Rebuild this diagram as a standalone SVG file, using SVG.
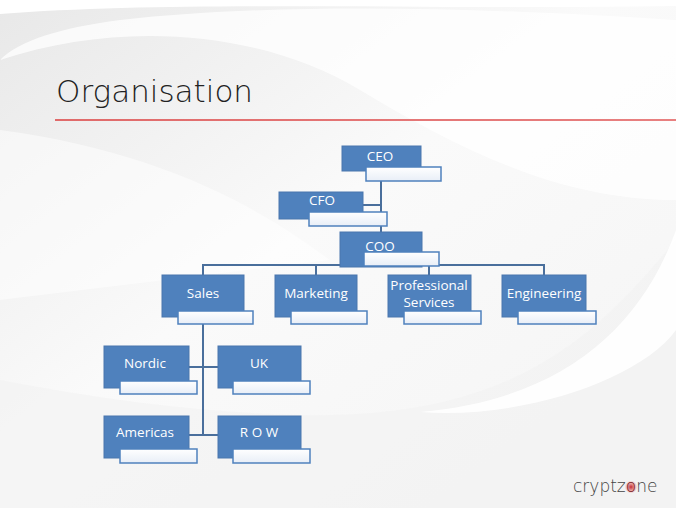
<svg xmlns="http://www.w3.org/2000/svg" width="676" height="508" viewBox="0 0 676 508">
<defs>
<linearGradient id="bg" x1="0" y1="0" x2="1" y2="1">
<stop offset="0" stop-color="#e8e8e8"/>
<stop offset="0.45" stop-color="#fafafa"/>
<stop offset="1" stop-color="#f4f4f4"/>
</linearGradient>
<linearGradient id="redline" x1="0" y1="0" x2="1" y2="0">
<stop offset="0" stop-color="#e06a6a"/>
<stop offset="1" stop-color="#e88080"/>
</linearGradient>
<linearGradient id="wbox" x1="0" y1="0" x2="0" y2="1">
<stop offset="0" stop-color="#ffffff"/>
<stop offset="1" stop-color="#e8eef7"/>
</linearGradient>
<radialGradient id="dot" cx="0.5" cy="0.5" r="0.5">
<stop offset="0" stop-color="#c0141e" stop-opacity="0.9"/>
<stop offset="1" stop-color="#e04040" stop-opacity="0"/>
</radialGradient>
<style>
.blue{fill:#4f81bd;stroke:#4a76ad;stroke-width:1}
.white{fill:url(#wbox);stroke:#4f81bd;stroke-width:1.5}
.lbl{font-family:"Open Sans","Liberation Sans",sans-serif;font-size:13.5px;fill:#ffffff;text-anchor:middle}
.conn{stroke:#4a6f9c;stroke-width:2;fill:none}
</style>
</defs>
<rect x="0" y="0" width="676" height="508" fill="url(#bg)"/>
<path d="M0,14 C180,0 420,10 676,6 L676,0 L0,0 Z" fill="#ffffff"/>
<path d="M0,60 C120,20 260,30 360,90 C460,150 560,200 676,200 L676,20 C520,10 300,0 120,20 C60,28 20,40 0,60 Z" fill="#ffffff" opacity="0.75"/>
<path d="M0,130 C150,150 250,200 330,260 L0,300 Z" fill="#ffffff" opacity="0.5"/>
<path d="M676,240 C600,330 520,420 300,415 C180,412 80,395 0,380 L0,508 L676,508 Z" fill="#f2f2f2" opacity="0.6"/>
<path d="M676,230 C640,330 560,400 420,412 C520,420 640,380 676,330 Z" fill="#ffffff" opacity="0.9"/>

<text x="56" y="102" font-family="DejaVu Sans, sans-serif" font-weight="200" font-size="31" fill="#222222">Organisation</text>
<rect x="55" y="119" width="621" height="2" fill="url(#redline)"/>

<g id="connectors">
<line class="conn" x1="381" y1="181" x2="381" y2="265"/>
<line class="conn" x1="363" y1="205" x2="381" y2="205"/>
<line class="conn" x1="203" y1="265" x2="544" y2="265"/>
<line class="conn" x1="203" y1="264" x2="203" y2="275"/>
<line class="conn" x1="316" y1="264" x2="316" y2="275"/>
<line class="conn" x1="429" y1="264" x2="429" y2="275"/>
<line class="conn" x1="544" y1="264" x2="544" y2="275"/>
<line class="conn" x1="203" y1="324" x2="203" y2="436"/>
<line class="conn" x1="189" y1="367" x2="218" y2="367"/>
<line class="conn" x1="189" y1="435" x2="218" y2="435"/>
</g>

<g id="ceo"><rect class="blue" x="342" y="146" width="79" height="25"/><rect class="white" x="366" y="167" width="75" height="14"/><text class="lbl" x="380" y="161">CEO</text></g>
<g id="cfo"><rect class="blue" x="279" y="192" width="84" height="27"/><rect class="white" x="309" y="212" width="78" height="14"/><text class="lbl" x="322" y="205">CFO</text></g>
<g id="coo"><rect class="blue" x="340" y="232" width="82" height="35"/><rect class="white" x="364" y="252" width="75" height="14"/><text class="lbl" x="380" y="251">COO</text></g>
<g id="sales"><rect class="blue" x="162" y="275" width="82" height="42"/><rect class="white" x="178" y="311" width="75" height="13"/><text class="lbl" x="203" y="298">Sales</text></g>
<g id="marketing"><rect class="blue" x="275" y="275" width="82" height="42"/><rect class="white" x="291" y="311" width="76" height="13"/><text class="lbl" x="316" y="298">Marketing</text></g>
<g id="professional-services"><rect class="blue" x="388" y="275" width="83" height="42"/><rect class="white" x="404" y="311" width="77" height="13"/><text class="lbl" x="429" y="290">Professional</text><text class="lbl" x="429" y="307">Services</text></g>
<g id="engineering"><rect class="blue" x="502" y="275" width="84" height="42"/><rect class="white" x="518" y="311" width="78" height="13"/><text class="lbl" x="544" y="298">Engineering</text></g>
<g id="nordic"><rect class="blue" x="104" y="346" width="85" height="42"/><rect class="white" x="120" y="381" width="77" height="13"/><text class="lbl" x="145" y="368">Nordic</text></g>
<g id="uk"><rect class="blue" x="218" y="346" width="83" height="42"/><rect class="white" x="233" y="381" width="77" height="13"/><text class="lbl" x="259" y="368">UK</text></g>
<g id="americas"><rect class="blue" x="104" y="416" width="85" height="42"/><rect class="white" x="120" y="449" width="77" height="14"/><text class="lbl" x="145" y="437">Americas</text></g>
<g id="row"><rect class="blue" x="218" y="416" width="83" height="42"/><rect class="white" x="233" y="449" width="77" height="14"/><text class="lbl" x="259" y="437">R O W</text></g>

<circle cx="631" cy="487" r="6.5" fill="url(#dot)"/>
<text x="573" y="492" font-family="DejaVu Sans, sans-serif" font-weight="200" font-size="17" fill="#444444">cryptz<tspan fill="#7a1a1a">o</tspan>ne</text>
</svg>
